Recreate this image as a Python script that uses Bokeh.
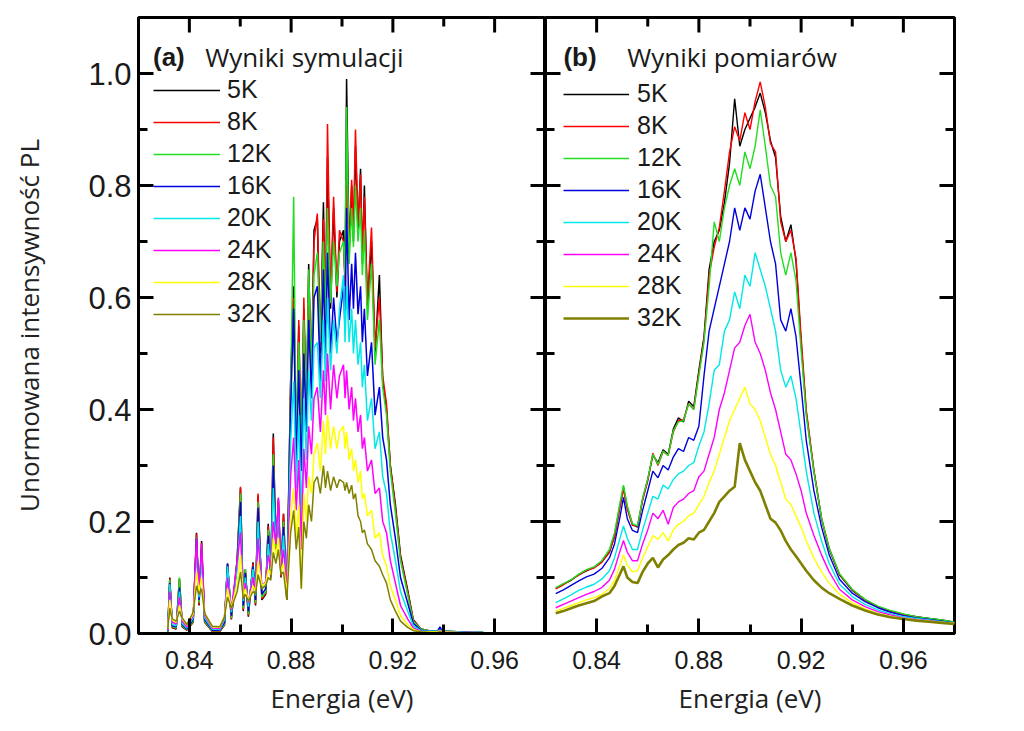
from bokeh.plotting import figure
from bokeh.layouts import row
from bokeh.models import (FixedTicker, NumeralTickFormatter, Legend,
                          LegendItem, Label, Range1d, BoxAnnotation)
from bokeh.embed import file_html
from bokeh.resources import INLINE

# ---------------- data ----------------
temps = ["5K", "8K", "12K", "16K", "20K", "24K", "28K", "32K"]
line_colors = ["#000000", "#ff0000", "#22dd22", "#0000dd",
               "#00e8e8", "#ff00ff", "#ffff00", "#808000"]

x_major = [0.84, 0.88, 0.92, 0.96]
x_minor = [0.86, 0.90, 0.94]
y_major = [0.0, 0.2, 0.4, 0.6, 0.8, 1.0]
y_minor = [0.1, 0.3, 0.5, 0.7, 0.9]

# panel (a): simulation
energy_a = [0.8315, 0.8323, 0.8333, 0.8348, 0.8361, 0.8372, 0.8390, 0.8415, 0.8428, 0.8438,
            0.8448, 0.8460, 0.8490, 0.8520, 0.8538, 0.8550, 0.8565, 0.8588, 0.8601, 0.8612,
            0.8620, 0.8632, 0.8650, 0.8660, 0.8670, 0.8685, 0.8700, 0.8710, 0.8720, 0.8730,
            0.8740, 0.8750, 0.8760, 0.8770, 0.8783, 0.8798, 0.8810, 0.8820, 0.8830, 0.8840,
            0.8850, 0.8860, 0.8869, 0.8880, 0.8890, 0.8903, 0.8915, 0.8927, 0.8935, 0.8943,
            0.8955, 0.8967, 0.8980, 0.8990, 0.9006, 0.9012, 0.9018, 0.9028, 0.9038, 0.9045,
            0.9053, 0.9063, 0.9073, 0.9080, 0.9088, 0.9100, 0.9116, 0.9130, 0.9147, 0.9160,
            0.9175, 0.9190, 0.9210, 0.9230, 0.9258, 0.9280, 0.9310, 0.9350, 0.9375, 0.9385,
            0.9395, 0.9450, 0.9500, 0.9550, 0.9580]
sim_5K = [0.003, 0.100, 0.010, 0.008, 0.098, 0.012, 0.006, 0.020, 0.180, 0.050,
          0.165, 0.020, 0.004, 0.004, 0.015, 0.125, 0.025, 0.134, 0.260, 0.040,
          0.115, 0.030, 0.127, 0.050, 0.246, 0.060, 0.070, 0.196, 0.100, 0.357,
          0.150, 0.240, 0.100, 0.214, 0.060, 0.450, 0.620, 0.300, 0.550, 0.300,
          0.580, 0.380, 0.660, 0.450, 0.720, 0.740, 0.500, 0.770, 0.550, 0.850,
          0.580, 0.760, 0.600, 0.700, 0.720, 0.620, 0.990, 0.680, 0.800, 0.700,
          0.870, 0.720, 0.830, 0.660, 0.800, 0.580, 0.700, 0.500, 0.640, 0.450,
          0.400, 0.300, 0.230, 0.140, 0.078, 0.025, 0.008, 0.004, 0.004, 0.008,
          0.004, 0.003, 0.002, 0.002, 0.000]
sim_8K = [0.003, 0.098, 0.011, 0.009, 0.096, 0.013, 0.006, 0.021, 0.178, 0.052,
          0.162, 0.021, 0.004, 0.004, 0.016, 0.122, 0.026, 0.132, 0.262, 0.042,
          0.112, 0.032, 0.125, 0.052, 0.250, 0.062, 0.072, 0.192, 0.102, 0.350,
          0.152, 0.236, 0.102, 0.214, 0.062, 0.440, 0.600, 0.310, 0.560, 0.310,
          0.600, 0.390, 0.640, 0.460, 0.700, 0.750, 0.510, 0.740, 0.560, 0.910,
          0.590, 0.780, 0.610, 0.720, 0.700, 0.630, 0.800, 0.690, 0.810, 0.720,
          0.900, 0.730, 0.820, 0.670, 0.780, 0.590, 0.725, 0.510, 0.600, 0.460,
          0.410, 0.300, 0.225, 0.136, 0.075, 0.024, 0.008, 0.004, 0.004, 0.006,
          0.004, 0.003, 0.002, 0.002, 0.000]
sim_12K = [0.003, 0.096, 0.012, 0.010, 0.100, 0.014, 0.007, 0.022, 0.172, 0.055,
           0.158, 0.022, 0.005, 0.005, 0.017, 0.118, 0.028, 0.128, 0.250, 0.045,
           0.115, 0.034, 0.120, 0.055, 0.235, 0.065, 0.075, 0.185, 0.105, 0.320,
           0.155, 0.228, 0.105, 0.200, 0.065, 0.420, 0.780, 0.320, 0.520, 0.320,
           0.560, 0.400, 0.650, 0.470, 0.640, 0.680, 0.520, 0.700, 0.560, 0.760,
           0.590, 0.700, 0.620, 0.680, 0.700, 0.640, 0.940, 0.660, 0.760, 0.690,
           0.800, 0.700, 0.760, 0.640, 0.720, 0.560, 0.660, 0.480, 0.560, 0.440,
           0.390, 0.290, 0.215, 0.130, 0.070, 0.022, 0.008, 0.004, 0.004, 0.006,
           0.004, 0.003, 0.002, 0.002, 0.000]
sim_16K = [0.004, 0.090, 0.014, 0.012, 0.082, 0.016, 0.008, 0.025, 0.170, 0.060,
           0.150, 0.025, 0.006, 0.006, 0.020, 0.125, 0.032, 0.125, 0.235, 0.050,
           0.108, 0.040, 0.120, 0.060, 0.225, 0.070, 0.080, 0.175, 0.110, 0.300,
           0.160, 0.225, 0.110, 0.190, 0.070, 0.400, 0.580, 0.300, 0.470, 0.290,
           0.500, 0.360, 0.560, 0.420, 0.600, 0.620, 0.450, 0.650, 0.480, 0.680,
           0.500, 0.600, 0.520, 0.560, 0.620, 0.540, 0.760, 0.560, 0.660, 0.580,
           0.680, 0.570, 0.620, 0.520, 0.580, 0.460, 0.520, 0.390, 0.440, 0.350,
           0.310, 0.230, 0.170, 0.100, 0.055, 0.018, 0.006, 0.004, 0.004, 0.012,
           0.004, 0.003, 0.002, 0.002, 0.000]
sim_20K = [0.005, 0.088, 0.016, 0.014, 0.075, 0.018, 0.010, 0.028, 0.150, 0.065,
           0.135, 0.028, 0.008, 0.007, 0.025, 0.120, 0.038, 0.115, 0.210, 0.058,
           0.100, 0.048, 0.115, 0.068, 0.200, 0.080, 0.088, 0.160, 0.115, 0.260,
           0.160, 0.215, 0.115, 0.175, 0.080, 0.340, 0.450, 0.260, 0.390, 0.200,
           0.420, 0.310, 0.470, 0.380, 0.510, 0.520, 0.420, 0.560, 0.450, 0.600,
           0.470, 0.560, 0.500, 0.580, 0.640, 0.520, 0.620, 0.520, 0.580, 0.500,
           0.560, 0.480, 0.520, 0.440, 0.480, 0.380, 0.420, 0.330, 0.360, 0.280,
           0.250, 0.180, 0.130, 0.075, 0.040, 0.014, 0.005, 0.004, 0.004, 0.006,
           0.004, 0.003, 0.002, 0.002, 0.000]
sim_24K = [0.006, 0.075, 0.020, 0.017, 0.065, 0.022, 0.012, 0.032, 0.170, 0.070,
           0.160, 0.032, 0.010, 0.009, 0.030, 0.100, 0.042, 0.130, 0.180, 0.062,
           0.090, 0.055, 0.100, 0.075, 0.170, 0.085, 0.092, 0.140, 0.118, 0.200,
           0.160, 0.243, 0.115, 0.150, 0.085, 0.280, 0.350, 0.220, 0.310, 0.150,
           0.330, 0.260, 0.370, 0.320, 0.420, 0.440, 0.360, 0.470, 0.390, 0.500,
           0.400, 0.480, 0.420, 0.460, 0.480, 0.420, 0.470, 0.400, 0.440, 0.380,
           0.420, 0.360, 0.390, 0.330, 0.350, 0.290, 0.310, 0.250, 0.260, 0.200,
           0.180, 0.130, 0.090, 0.050, 0.026, 0.010, 0.004, 0.003, 0.003, 0.005,
           0.003, 0.002, 0.002, 0.001, 0.000]
sim_28K = [0.008, 0.060, 0.024, 0.020, 0.050, 0.026, 0.015, 0.035, 0.110, 0.075,
           0.100, 0.035, 0.012, 0.011, 0.032, 0.080, 0.045, 0.090, 0.140, 0.065,
           0.080, 0.058, 0.085, 0.075, 0.130, 0.085, 0.090, 0.115, 0.105, 0.170,
           0.140, 0.170, 0.110, 0.125, 0.070, 0.210, 0.260, 0.170, 0.230, 0.080,
           0.250, 0.200, 0.280, 0.250, 0.320, 0.340, 0.290, 0.380, 0.320, 0.390,
           0.330, 0.370, 0.330, 0.360, 0.370, 0.330, 0.360, 0.310, 0.330, 0.290,
           0.310, 0.270, 0.290, 0.240, 0.250, 0.210, 0.220, 0.170, 0.180, 0.140,
           0.120, 0.085, 0.060, 0.032, 0.016, 0.007, 0.003, 0.003, 0.003, 0.004,
           0.003, 0.002, 0.001, 0.001, 0.000]
sim_32K = [0.008, 0.045, 0.026, 0.022, 0.040, 0.028, 0.016, 0.038, 0.085, 0.070,
           0.080, 0.036, 0.013, 0.012, 0.030, 0.065, 0.045, 0.075, 0.110, 0.062,
           0.070, 0.058, 0.075, 0.070, 0.105, 0.080, 0.085, 0.100, 0.095, 0.145,
           0.125, 0.150, 0.105, 0.110, 0.060, 0.180, 0.220, 0.150, 0.190, 0.080,
           0.200, 0.170, 0.230, 0.200, 0.270, 0.280, 0.250, 0.300, 0.260, 0.290,
           0.255, 0.280, 0.260, 0.275, 0.270, 0.255, 0.270, 0.250, 0.265, 0.240,
           0.250, 0.210, 0.200, 0.180, 0.185, 0.160, 0.150, 0.130, 0.120, 0.105,
           0.090, 0.060, 0.040, 0.022, 0.011, 0.005, 0.003, 0.002, 0.002, 0.003,
           0.002, 0.002, 0.001, 0.001, 0.000]

# panel (b): measurement
energy_b = [0.824, 0.827, 0.830, 0.833, 0.836, 0.839, 0.842, 0.845,
            0.847, 0.849, 0.8505, 0.852, 0.854, 0.856, 0.858, 0.860,
            0.862, 0.864, 0.866, 0.868, 0.870, 0.872, 0.874, 0.876,
            0.878, 0.880, 0.882, 0.884, 0.886, 0.888, 0.890, 0.892,
            0.894, 0.896, 0.898, 0.900, 0.902, 0.904, 0.906, 0.908,
            0.910, 0.912, 0.914, 0.916, 0.918, 0.920, 0.922, 0.925,
            0.928, 0.931, 0.935, 0.940, 0.945, 0.950, 0.955, 0.960,
            0.965, 0.970, 0.975, 0.980]
meas_5K = [0.080, 0.088, 0.095, 0.105, 0.112, 0.118, 0.128, 0.145,
           0.175, 0.225, 0.262, 0.225, 0.195, 0.190, 0.240, 0.275,
           0.318, 0.305, 0.328, 0.320, 0.365, 0.385, 0.378, 0.415,
           0.405, 0.470, 0.530, 0.650, 0.700, 0.720, 0.770, 0.840,
           0.955, 0.870, 0.900, 0.920, 0.940, 0.965, 0.930, 0.880,
           0.850, 0.745, 0.700, 0.730, 0.665, 0.520, 0.395, 0.290,
           0.205, 0.150, 0.105, 0.077, 0.060, 0.048, 0.040, 0.034,
           0.030, 0.027, 0.024, 0.020]
meas_8K = [0.080, 0.087, 0.096, 0.104, 0.113, 0.117, 0.127, 0.146,
           0.172, 0.222, 0.258, 0.222, 0.193, 0.192, 0.238, 0.272,
           0.322, 0.300, 0.325, 0.318, 0.360, 0.380, 0.382, 0.410,
           0.400, 0.465, 0.525, 0.640, 0.690, 0.725, 0.790, 0.860,
           0.905, 0.880, 0.930, 0.900, 0.950, 0.985, 0.940, 0.875,
           0.860, 0.735, 0.700, 0.720, 0.670, 0.530, 0.400, 0.292,
           0.205, 0.152, 0.106, 0.078, 0.060, 0.048, 0.040, 0.034,
           0.030, 0.026, 0.023, 0.019]
meas_12K = [0.082, 0.089, 0.096, 0.106, 0.114, 0.119, 0.130, 0.150,
            0.180, 0.230, 0.265, 0.228, 0.196, 0.192, 0.242, 0.276,
            0.320, 0.302, 0.326, 0.318, 0.362, 0.378, 0.380, 0.410,
            0.400, 0.460, 0.520, 0.620, 0.735, 0.700, 0.760, 0.800,
            0.830, 0.800, 0.860, 0.830, 0.870, 0.935, 0.870, 0.800,
            0.780, 0.680, 0.640, 0.680, 0.630, 0.505, 0.390, 0.288,
            0.206, 0.152, 0.107, 0.079, 0.061, 0.049, 0.041, 0.035,
            0.030, 0.027, 0.024, 0.020]
meas_16K = [0.071, 0.078, 0.086, 0.094, 0.101, 0.106, 0.116, 0.135,
            0.160, 0.205, 0.243, 0.205, 0.184, 0.180, 0.220, 0.255,
            0.290, 0.278, 0.300, 0.292, 0.315, 0.330, 0.325, 0.350,
            0.345, 0.370, 0.460, 0.540, 0.580, 0.620, 0.660, 0.700,
            0.760, 0.720, 0.760, 0.740, 0.790, 0.820, 0.760, 0.700,
            0.660, 0.560, 0.540, 0.580, 0.530, 0.440, 0.345, 0.255,
            0.190, 0.140, 0.097, 0.072, 0.057, 0.046, 0.038, 0.032,
            0.028, 0.025, 0.022, 0.019]
meas_20K = [0.055, 0.062, 0.069, 0.077, 0.083, 0.088, 0.097, 0.112,
            0.135, 0.168, 0.192, 0.170, 0.150, 0.150, 0.185, 0.215,
            0.245, 0.240, 0.265, 0.258, 0.275, 0.285, 0.290, 0.300,
            0.305, 0.335, 0.360, 0.410, 0.470, 0.480, 0.540, 0.560,
            0.610, 0.580, 0.640, 0.620, 0.680, 0.650, 0.620, 0.580,
            0.540, 0.470, 0.440, 0.460, 0.420, 0.355, 0.290, 0.215,
            0.165, 0.125, 0.088, 0.066, 0.052, 0.042, 0.035, 0.030,
            0.027, 0.024, 0.021, 0.019]
meas_24K = [0.046, 0.052, 0.058, 0.064, 0.070, 0.075, 0.082, 0.095,
            0.115, 0.145, 0.166, 0.145, 0.130, 0.130, 0.160, 0.185,
            0.215, 0.205, 0.220, 0.195, 0.225, 0.235, 0.240, 0.250,
            0.255, 0.280, 0.290, 0.320, 0.350, 0.400, 0.430, 0.470,
            0.510, 0.520, 0.550, 0.570, 0.520, 0.500, 0.470, 0.430,
            0.400, 0.360, 0.320, 0.310, 0.285, 0.255, 0.215, 0.175,
            0.140, 0.110, 0.079, 0.060, 0.048, 0.039, 0.033, 0.028,
            0.025, 0.023, 0.020, 0.018]
meas_28K = [0.040, 0.045, 0.050, 0.055, 0.060, 0.064, 0.070, 0.080,
            0.095, 0.120, 0.140, 0.122, 0.110, 0.112, 0.135, 0.155,
            0.175, 0.168, 0.180, 0.165, 0.185, 0.195, 0.200, 0.210,
            0.215, 0.230, 0.245, 0.270, 0.290, 0.320, 0.350, 0.380,
            0.400, 0.420, 0.440, 0.410, 0.400, 0.380, 0.350, 0.320,
            0.300, 0.270, 0.240, 0.230, 0.210, 0.190, 0.165, 0.135,
            0.110, 0.090, 0.070, 0.055, 0.044, 0.036, 0.031, 0.027,
            0.024, 0.022, 0.020, 0.018]
meas_32K = [0.036, 0.040, 0.045, 0.050, 0.054, 0.058, 0.066, 0.072,
            0.085, 0.105, 0.120, 0.100, 0.092, 0.090, 0.110, 0.125,
            0.135, 0.118, 0.132, 0.140, 0.150, 0.158, 0.162, 0.170,
            0.168, 0.180, 0.185, 0.200, 0.215, 0.235, 0.245, 0.255,
            0.262, 0.340, 0.310, 0.290, 0.270, 0.255, 0.230, 0.205,
            0.198, 0.184, 0.165, 0.150, 0.138, 0.125, 0.112, 0.095,
            0.082, 0.072, 0.062, 0.050, 0.041, 0.034, 0.029, 0.026,
            0.023, 0.021, 0.019, 0.017]

sim_series = [sim_5K, sim_8K, sim_12K, sim_16K, sim_20K, sim_24K, sim_28K, sim_32K]
meas_series = [meas_5K, meas_8K, meas_12K, meas_16K, meas_20K, meas_24K, meas_28K, meas_32K]

# ---------------- layout / styling ----------------
X0, X1 = 0.82, 0.98
Y0, Y1 = 0.0, 1.1
H = 720
TOP, BOTTOM = 17, 87
FRAME_H = H - TOP - BOTTOM
TICK_FONT = "Liberation Sans"
LABEL_FONT = "Open Sans"
MAJ_PX, MIN_PX, TICK_W = 15, 9, 3


def box(p, l, r, b, t):
    p.add_layout(BoxAnnotation(left=l, right=r, bottom=b, top=t, fill_color="black",
                               fill_alpha=1.0, line_color=None, level="overlay"))


def add_ticks(p, frame_w, sides):
    """Inward tick marks (small filled boxes) on the frame sides that have no axis ticks."""
    dx = (X1 - X0) / frame_w
    dy = (Y1 - Y0) / FRAME_H
    hx, hy = TICK_W / 2 * dx, TICK_W / 2 * dy
    for ticks, n_px in ((x_major, MAJ_PX), (x_minor, MIN_PX)):
        for t in ticks:
            if "bottom" in sides:
                box(p, t - hx, t + hx, Y0, Y0 + n_px * dy)
            if "top" in sides:
                box(p, t - hx, t + hx, Y1 - n_px * dy, Y1)
    for ticks, n_px in ((y_major, MAJ_PX), (y_minor, MIN_PX)):
        for t in ticks:
            if "left" in sides:
                box(p, X0, X0 + n_px * dx, t - hy, t + hy)
            if "right" in sides:
                box(p, X1 - n_px * dx, X1, t - hy, t + hy)


def axis_ticks_inward(ax):
    ax.major_tick_in = MAJ_PX
    ax.major_tick_out = 0
    ax.minor_tick_in = MIN_PX
    ax.minor_tick_out = 0
    ax.major_tick_line_width = TICK_W
    ax.minor_tick_line_width = TICK_W
    ax.major_tick_line_color = "black"
    ax.minor_tick_line_color = "black"
    ax.axis_line_width = 3
    ax.axis_line_color = "black"


def make_panel(energy, series, width, border_left, border_right, frame_w, show_y, widths,
               tag, title, tag_x, title_x, legend_xy, glyph_w, standoff):
    p = figure(width=width, height=H, x_range=Range1d(X0, X1), y_range=Range1d(Y0, Y1),
               output_backend="svg", toolbar_location=None,
               min_border_left=border_left, min_border_right=border_right,
               min_border_top=TOP, min_border_bottom=BOTTOM,
               background_fill_color="white", border_fill_color="white")
    p.outline_line_color = "black"
    p.outline_line_width = 3
    p.xgrid.visible = False
    p.ygrid.visible = False

    xa = p.xaxis[0]
    axis_ticks_inward(xa)
    xa.ticker = FixedTicker(ticks=x_major, minor_ticks=x_minor)
    xa.formatter = NumeralTickFormatter(format="0.00")
    xa.major_label_text_font = TICK_FONT
    xa.major_label_text_font_size = "25px"
    xa.major_label_text_color = "#1a1a1a"
    xa.major_label_standoff = 17
    xa.axis_label = "Energia (eV)"
    xa.axis_label_text_font = LABEL_FONT
    xa.axis_label_text_font_size = "26px"
    xa.axis_label_text_font_style = "normal"
    xa.axis_label_text_color = "#222222"
    xa.axis_label_standoff = 8

    ya = p.yaxis[0]
    if show_y:
        axis_ticks_inward(ya)
        ya.ticker = FixedTicker(ticks=y_major, minor_ticks=y_minor)
        ya.formatter = NumeralTickFormatter(format="0.0")
        ya.major_label_text_font = TICK_FONT
        ya.major_label_text_font_size = "31px"
        ya.major_label_text_color = "#1a1a1a"
        ya.major_label_standoff = 7
        ya.axis_label = "Unormowana intensywność PL"
        ya.axis_label_text_font = LABEL_FONT
        ya.axis_label_text_font_size = "26px"
        ya.axis_label_text_font_style = "normal"
        ya.axis_label_text_color = "#222222"
        ya.axis_label_standoff = 38
        sides = ("top", "right")
    else:
        ya.visible = False
        sides = ("top", "left", "right")

    items = []
    for name, col, ys, lw in zip(temps, line_colors, series, widths):
        r = p.line(energy, ys, line_color=col, line_width=lw)
        items.append(LegendItem(label=name, renderers=[r]))

    add_ticks(p, frame_w, sides)

    leg = Legend(items=items, location=legend_xy, padding=0, margin=0, spacing=3,
                 glyph_width=glyph_w, glyph_height=20, label_height=20,
                 label_standoff=standoff, label_text_font=TICK_FONT,
                 label_text_font_size="25px", label_text_color="#1a1a1a",
                 border_line_color=None, background_fill_alpha=0)
    p.add_layout(leg)

    p.add_layout(Label(x=tag_x, y=1.03, text=tag, text_font=TICK_FONT,
                       text_font_style="bold", text_font_size="26px",
                       text_color="#1a1a1a", text_baseline="middle"))
    p.add_layout(Label(x=title_x, y=1.03, text=title, text_font=LABEL_FONT,
                       text_font_size="26px", text_color="#1a1a1a",
                       text_baseline="middle"))
    return p


p1 = make_panel(energy_a, sim_series, 138 + 407, 138, 0, 407, True,
                [1.5] * 8, "(a)", "Wyniki symulacji", 0.8257, 0.8462,
                (15, 305), 67, 7)
p2 = make_panel(energy_b, meas_series, 409 + 10, 0, 10, 409, False,
                [1.4] * 7 + [2.6], "(b)", "Wyniki pomiarów", 0.8270, 0.8520,
                (18, 301), 66, 8)

layout = row(p1, p2)
open("out.html", "w").write(file_html(layout, INLINE))
